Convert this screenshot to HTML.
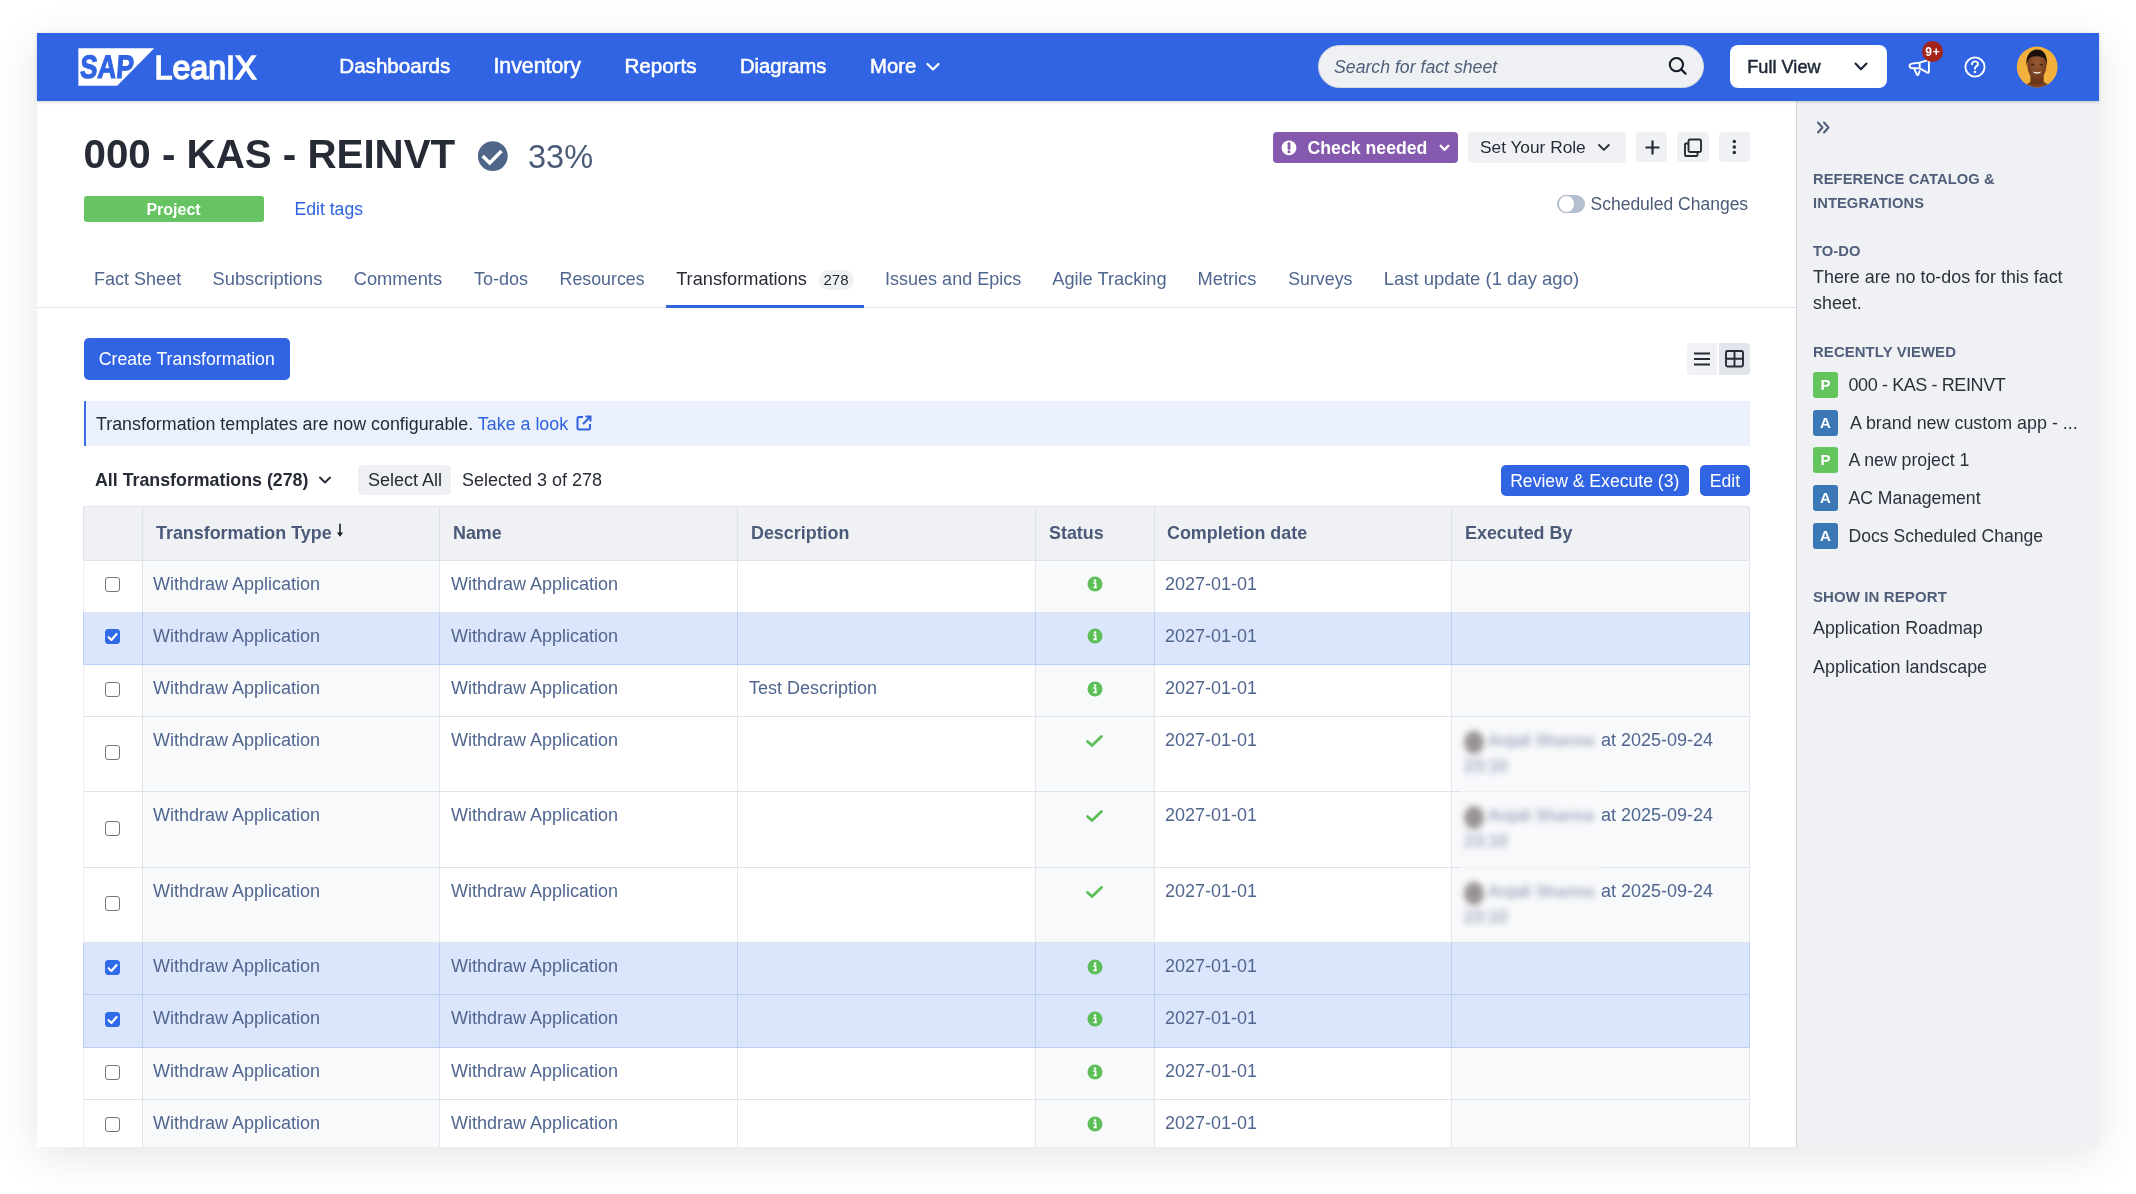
<!DOCTYPE html>
<html><head><meta charset="utf-8"><title>LeanIX</title><style>
*{box-sizing:border-box;margin:0;padding:0}
html,body{width:2136px;height:1194px;overflow:hidden;background:#fff;}
body{will-change:transform;
  font-family:"Liberation Sans",sans-serif;color:#262b36;}
.a{position:absolute;white-space:nowrap}
#win{position:absolute;left:37px;top:33px;width:2062px;height:1114px;background:#fff;
  box-shadow:0 9px 40px rgba(0,0,0,0.105);overflow:hidden}
#nav{position:absolute;left:37px;top:33px;width:2062px;height:68px;background:#3164e3;
  box-shadow:0 1px 3px rgba(0,0,0,0.18)}
.nv{position:absolute;top:53.5px;font-size:20.5px;color:#fff;line-height:24px;-webkit-text-stroke:0.55px #fff}
.tab{position:absolute;top:267px;font-size:18px;line-height:24px;color:#50668f}
.t18{font-size:18px;line-height:24px}
.hd{position:absolute;font-weight:bold;font-size:17.9px;line-height:24px;color:#4a5a78}
.cell{position:absolute;font-size:18px;line-height:24px;color:#50668f}
.sbh{position:absolute;left:1813px;font-weight:bold;font-size:14.7px;line-height:23.5px;color:#4f5e79;letter-spacing:0.1px}
.sbt{position:absolute;left:1813px;font-size:18px;line-height:26px;color:#2b303b}
.gbtn{position:absolute;background:#eff1f4;border-radius:4px}
.chk{position:absolute;width:15px;height:15px;border:1.6px solid #767676;border-radius:3px;background:#fff}
.chk.on{background:#2f6ae8;border-color:#2f6ae8}
</style></head>
<body>
<div id="win"></div>
<div class="a" style="left:1797px;top:101px;width:302px;height:1046px;background:#f0f1f5"></div>
<div class="a" style="left:1795.5px;top:101px;width:1.8px;height:1046px;background:#d2d3d6"></div>
<div id="nav"></div>
<svg class="a" style="left:78px;top:48px" width="77" height="39" viewBox="0 0 77 39">
<polygon points="0.4,0.2 76.2,0.2 39.2,37.7 0.4,37.7" fill="#fff"/>
<text x="2.2" y="30.4" font-family="Liberation Sans" font-weight="bold" font-size="32.5" fill="#3164e3" stroke="#3164e3" stroke-width="1.1" textLength="53.5" lengthAdjust="spacingAndGlyphs" transform="skewX(-4) translate(1.5 0)">SAP</text>
</svg>
<svg class="a" style="left:153px;top:48px" width="110" height="40" viewBox="0 0 110 40">
<text x="1.5" y="30.8" font-family="Liberation Sans" font-size="33.5" fill="#fff" stroke="#fff" stroke-width="1.6" textLength="102" lengthAdjust="spacingAndGlyphs">LeanIX</text>
</svg>
<div class="nv" style="left:339.3px;font-size:20.6px">Dashboards</div>
<div class="nv" style="left:493.4px;font-size:21.3px">Inventory</div>
<div class="nv" style="left:624.4px;font-size:20.6px">Reports</div>
<div class="nv" style="left:740px;font-size:20.2px">Diagrams</div>
<div class="nv" style="left:870.1px;font-size:20.3px">More</div>
<svg class="a" style="left:925px;top:60px" width="16" height="14" viewBox="0 0 16 14"><path d="M2.5 4 L8 9.5 L13.5 4" fill="none" stroke="#fff" stroke-width="2.2" stroke-linecap="round" stroke-linejoin="round"/></svg>
<div class="a" style="left:1318px;top:45px;width:386px;height:43px;border-radius:22px;background:#eef0f3;border:1px solid #d4d8df"></div>
<div class="a" style="left:1334px;top:55px;font-style:italic;font-size:17.7px;line-height:24px;color:#4f5e79">Search for fact sheet</div>
<svg class="a" style="left:1666px;top:56px" width="22" height="22" viewBox="0 0 22 22"><circle cx="10.4" cy="8.6" r="6.6" fill="none" stroke="#141a26" stroke-width="2.1"/><path d="M15.2 13.4 L19.6 17.8" stroke="#141a26" stroke-width="2.2" stroke-linecap="round"/></svg>
<div class="a" style="left:1730px;top:45px;width:157px;height:43px;border-radius:8px;background:#fff"></div>
<div class="a" style="left:1747.2px;top:54.5px;font-size:18.2px;line-height:24px;color:#1b2636;-webkit-text-stroke:0.45px #1b2636">Full View</div>
<svg class="a" style="left:1852px;top:59px" width="17" height="14" viewBox="0 0 17 14"><path d="M3.5 4.5 L9 10.2 L14.5 4.5" fill="none" stroke="#1b2636" stroke-width="2.1" stroke-linecap="round" stroke-linejoin="round"/></svg>
<svg class="a" style="left:1906px;top:55px" width="28" height="26" viewBox="0 0 28 26">
<path d="M13.7 7.6 L21.3 5.3 Q22.9 4.9 22.9 6.5 L22.9 16.6 Q22.9 18.2 21.4 17.6 L13.7 13.4 Z" fill="none" stroke="#fff" stroke-width="1.9" stroke-linejoin="round"/>
<path d="M13.7 7.6 L6 8.6 Q3.6 9 3.6 11 Q3.6 13 6 13.1 L13.7 13.4" fill="none" stroke="#fff" stroke-width="1.9" stroke-linejoin="round"/>
<path d="M8 13.3 L10.9 19.6 Q11.5 20.6 12.2 19.6 L13.6 16.2" fill="none" stroke="#fff" stroke-width="1.9" stroke-linejoin="round" stroke-linecap="round"/>
</svg>
<div class="a" style="left:1922px;top:41px;width:21px;height:21px;border-radius:50%;background:#a2241a;color:#fff;font-weight:bold;font-size:12px;line-height:22px;letter-spacing:0.8px;text-indent:0.8px;text-align:center">9+</div>
<svg class="a" style="left:1963px;top:55px" width="24" height="24" viewBox="0 0 24 24">
<circle cx="12" cy="12" r="9.6" fill="none" stroke="#fff" stroke-width="1.9"/>
<path d="M9 9.3 C9 7.4 10.4 6.4 12 6.4 C13.7 6.4 15 7.5 15 9 C15 10.6 13.6 11.1 12.6 11.9 C12.1 12.3 12 12.8 12 13.8" fill="none" stroke="#fff" stroke-width="1.9" stroke-linecap="round"/>
<circle cx="12" cy="17" r="1.3" fill="#fff"/>
</svg>
<svg class="a" style="left:2016px;top:46px" width="42" height="42" viewBox="0 0 42 42">
<defs><clipPath id="cp"><circle cx="21.2" cy="21" r="20.4"/></clipPath>
<radialGradient id="fg" cx="0.5" cy="0.4" r="0.6"><stop offset="0" stop-color="#9a5a34"/><stop offset="1" stop-color="#6e3a1c"/></radialGradient></defs>
<g clip-path="url(#cp)">
<rect width="42" height="42" fill="#f1b13c"/>
<path d="M8 43 C9 38.5 12.5 37 15 36 L27.5 36 C30 37 33 38.5 34.5 43 Z" fill="#7c4220"/>
<path d="M14.5 28 L27.5 28 L27.8 37.5 Q21 40 14.3 37.5 Z" fill="#6a3619"/>
<path d="M11.2 18 C11 11 15 5 21 5 C27.5 5 31 10.5 30.6 18 C30.4 26 27 34 21 34 C15 34 11.4 26 11.2 18 Z" fill="url(#fg)"/>
<path d="M10.4 19.5 C9.6 9.5 14.5 3.6 21 3.6 C27.8 3.6 31.6 9 31 19.5 C30.3 15 29.6 12.5 27 11.3 C23.5 9.8 18 9.8 14.8 11.3 C12.3 12.6 11.3 15 10.4 19.5 Z" fill="#1a110c"/>
<ellipse cx="16.8" cy="18.6" rx="1.8" ry="0.9" fill="#3a2418"/>
<ellipse cx="25.4" cy="18.6" rx="1.8" ry="0.9" fill="#3a2418"/>
<path d="M16.6 25.6 C18.5 28.6 23.6 28.6 25.4 25.6 C23 26.6 19 26.6 16.6 25.6 Z" fill="#f3ece6"/>
</g></svg>
<div class="a" style="left:83.5px;top:131px;font-weight:bold;font-size:40.3px;line-height:48px;color:#262b36">000 - KAS - REINVT</div>
<svg class="a" style="left:478px;top:141px" width="31" height="31" viewBox="0 0 31 31">
<circle cx="14.8" cy="15.1" r="14.9" fill="#4f6689"/>
<path d="M4.7 15 L11.7 22 L23.5 10" fill="none" stroke="#fff" stroke-width="3.4" stroke-linecap="butt" stroke-linejoin="miter"/>
</svg>
<div class="a" style="left:528px;top:137px;font-size:32.5px;line-height:40px;color:#4c5b78">33%</div>
<div class="a" style="left:83.5px;top:196px;width:180px;height:25.5px;border-radius:3px;background:#66c562;color:#fff;font-weight:bold;font-size:16px;line-height:27.5px;text-align:center">Project</div>
<div class="a" style="left:294.5px;top:197px;font-size:17.6px;line-height:24px;color:#2f63dd">Edit tags</div>
<div class="a" style="left:1273px;top:132px;width:185px;height:31px;border-radius:4px;background:#8559ad"></div>
<svg class="a" style="left:1281px;top:140px" width="16" height="16" viewBox="0 0 16 16"><circle cx="8" cy="7.8" r="7.4" fill="#fff"/><path d="M8 3.6 L8 8.6" stroke="#8559ad" stroke-width="2.8" stroke-linecap="round"/><circle cx="8" cy="11.7" r="1.5" fill="#8559ad"/></svg>
<div class="a" style="left:1307.5px;top:135.5px;font-weight:bold;font-size:17.7px;line-height:24px;color:#fff">Check needed</div>
<svg class="a" style="left:1438px;top:142px" width="13" height="12" viewBox="0 0 13 12"><path d="M2.6 3.8 L6.5 7.9 L10.4 3.8" fill="none" stroke="#fff" stroke-width="2.3" stroke-linecap="round" stroke-linejoin="round"/></svg>
<div class="gbtn" style="left:1468px;top:132px;width:158px;height:31px"></div>
<div class="a" style="left:1480px;top:134.8px;font-size:17.3px;line-height:24px;color:#262b36">Set Your Role</div>
<svg class="a" style="left:1596px;top:141px" width="16" height="13" viewBox="0 0 16 13"><path d="M3 4 L7.9 8.9 L12.8 4" fill="none" stroke="#262b36" stroke-width="1.8" stroke-linecap="round" stroke-linejoin="round"/></svg>
<div class="gbtn" style="left:1636px;top:131.5px;width:31px;height:30.5px"></div>
<svg class="a" style="left:1642.5px;top:137.5px" width="19" height="19" viewBox="0 0 19 19"><path d="M9.5 2.5 V16.5 M2.5 9.5 H16.5" stroke="#262b36" stroke-width="2.2"/></svg>
<div class="gbtn" style="left:1677px;top:131.5px;width:32px;height:30.5px"></div>
<svg class="a" style="left:1682px;top:136.5px" width="22" height="22" viewBox="0 0 22 22"><rect x="6.5" y="2.5" width="12.5" height="12.5" rx="1.5" fill="none" stroke="#262b36" stroke-width="1.9"/><path d="M6.5 6.5 H4 Q3 6.5 3 7.5 V18 Q3 19 4 19 H14.5 Q15.5 19 15.5 18 V15" fill="none" stroke="#262b36" stroke-width="1.9"/></svg>
<div class="gbtn" style="left:1719px;top:131.5px;width:31px;height:30.5px"></div>
<svg class="a" style="left:1730px;top:137px" width="8" height="21" viewBox="0 0 8 21"><circle cx="4.3" cy="4.5" r="1.75" fill="#262b36"/><circle cx="4.3" cy="10" r="1.75" fill="#262b36"/><circle cx="4.3" cy="15.4" r="1.75" fill="#262b36"/></svg>
<div class="a" style="left:1557px;top:194.5px;width:28px;height:18.5px;border-radius:10px;background:#b4bfcf"></div>
<div class="a" style="left:1557.5px;top:195px;width:17.5px;height:17.5px;border-radius:50%;background:#fff;border:1px solid #aab4c4"></div>
<div class="a" style="left:1590.5px;top:192px;font-size:17.5px;line-height:24px;color:#4b5a77">Scheduled Changes</div>
<div class="tab" style="left:94.1px;font-size:18px">Fact Sheet</div>
<div class="tab" style="left:212.6px;font-size:18.3px">Subscriptions</div>
<div class="tab" style="left:353.7px;font-size:18.3px">Comments</div>
<div class="tab" style="left:474.1px;font-size:18px">To-dos</div>
<div class="tab" style="left:559.6px;font-size:17.8px">Resources</div>
<div class="tab" style="left:885.1px;font-size:18px">Issues and Epics</div>
<div class="tab" style="left:1052.3px;font-size:18.2px">Agile Tracking</div>
<div class="tab" style="left:1197.5px;font-size:18.3px">Metrics</div>
<div class="tab" style="left:1288.2px;font-size:17.8px">Surveys</div>
<div class="tab" style="left:1383.7px;font-size:18.5px">Last update (1 day ago)</div>
<div class="tab" style="left:676.2px;font-size:18.2px;color:#262b36">Transformations</div>
<div class="a" style="left:818.5px;top:270px;width:35px;height:20px;border-radius:10px;background:#eef0f3;font-size:15px;line-height:20.5px;text-align:center;color:#262b36">278</div>
<div class="a" style="left:37px;top:306.5px;width:1760px;height:1.5px;background:#dfe3ea"></div>
<div class="a" style="left:665.5px;top:305px;width:198.5px;height:3px;background:#2f64e0"></div>
<div class="a" style="left:83.5px;top:338px;width:206.5px;height:42px;border-radius:5px;background:#3164e3;color:#fff;font-size:17.7px;line-height:43px;text-align:center">Create Transformation</div>
<div class="a" style="left:1687px;top:343px;width:30px;height:32px;border-radius:4px 0 0 4px;background:#f0f2f5"></div>
<div class="a" style="left:1719px;top:343px;width:31px;height:32px;border-radius:0 4px 4px 0;background:#e2e5eb"></div>
<svg class="a" style="left:1692px;top:350px" width="20" height="18" viewBox="0 0 20 18"><path d="M2 3.5 H18 M2 9 H18 M2 14.5 H18" stroke="#262b36" stroke-width="2"/></svg>
<svg class="a" style="left:1724px;top:349px" width="21" height="20" viewBox="0 0 21 20"><rect x="2" y="2" width="17" height="15.5" rx="1.5" fill="none" stroke="#262b36" stroke-width="1.9"/><path d="M10.5 2 V17.5 M2 9.75 H19" stroke="#262b36" stroke-width="1.9"/></svg>
<div class="a" style="left:83.5px;top:400.5px;width:1666.5px;height:45.5px;background:#ebf1fc;border-left:2.5px solid #3a6de6"></div>
<div class="a" style="left:96px;top:411.5px;font-size:17.85px;line-height:24px;color:#262b36">Transformation templates are now configurable. <span style="color:#2f63dd">Take a look</span></div>
<svg class="a" style="left:574.5px;top:414px" width="18" height="18" viewBox="0 0 18 18"><path d="M8 3 H4 Q2.5 3 2.5 4.5 V14 Q2.5 15.5 4 15.5 H13.5 Q15 15.5 15 14 V10" fill="none" stroke="#2f63dd" stroke-width="2"/><path d="M8 10 L15.5 2.5 M10.5 2.5 H15.5 V7.5" fill="none" stroke="#2f63dd" stroke-width="2"/></svg>
<div class="a" style="left:95px;top:468px;font-weight:bold;font-size:17.8px;line-height:24px;color:#262b36">All Transformations (278)</div>
<svg class="a" style="left:318px;top:474px" width="14" height="12" viewBox="0 0 14 12"><path d="M2 3.5 L7 8.5 L12 3.5" fill="none" stroke="#262b36" stroke-width="1.9" stroke-linecap="round" stroke-linejoin="round"/></svg>
<div class="a" style="left:358px;top:465px;width:93px;height:30px;border-radius:4px;background:#eef0f3"></div>
<div class="a t18" style="left:368px;top:468px;color:#262b36">Select All</div>
<div class="a t18" style="left:462px;top:468px;color:#262b36">Selected 3 of 278</div>
<div class="a" style="left:1500.5px;top:465px;width:188.5px;height:31px;border-radius:5px;background:#3164e3;color:#fff;font-size:17.6px;line-height:32px;text-align:center">Review &amp; Execute (3)</div>
<div class="a" style="left:1700px;top:465px;width:50px;height:31px;border-radius:5px;background:#3164e3;color:#fff;font-size:17.6px;line-height:32px;text-align:center">Edit</div>
<div class="a" style="left:83.5px;top:506px;width:1666.0px;height:54px;background:#f0f1f5;border-top:1px solid #e2e5eb"></div>
<div class="a" style="left:83.5px;top:560px;width:59.0px;height:52px;background:#fff"></div>
<div class="a" style="left:142.5px;top:560px;width:297.0px;height:52px;background:#f8f9fb"></div>
<div class="a" style="left:439.5px;top:560px;width:298.0px;height:52px;background:#fff"></div>
<div class="a" style="left:737.5px;top:560px;width:298.0px;height:52px;background:#fff"></div>
<div class="a" style="left:1035.5px;top:560px;width:119.0px;height:52px;background:#f8f9fb"></div>
<div class="a" style="left:1154.5px;top:560px;width:297.0px;height:52px;background:#fff"></div>
<div class="a" style="left:1451.5px;top:560px;width:298.0px;height:52px;background:#f8f9fb"></div>
<div class="a" style="left:83.5px;top:612px;width:59.0px;height:52.5px;background:#dbe5fb"></div>
<div class="a" style="left:142.5px;top:612px;width:297.0px;height:52.5px;background:#dbe5fb"></div>
<div class="a" style="left:439.5px;top:612px;width:298.0px;height:52.5px;background:#dbe5fb"></div>
<div class="a" style="left:737.5px;top:612px;width:298.0px;height:52.5px;background:#dbe5fb"></div>
<div class="a" style="left:1035.5px;top:612px;width:119.0px;height:52.5px;background:#dbe5fb"></div>
<div class="a" style="left:1154.5px;top:612px;width:297.0px;height:52.5px;background:#dbe5fb"></div>
<div class="a" style="left:1451.5px;top:612px;width:298.0px;height:52.5px;background:#dbe5fb"></div>
<div class="a" style="left:83.5px;top:664.5px;width:59.0px;height:52.0px;background:#fff"></div>
<div class="a" style="left:142.5px;top:664.5px;width:297.0px;height:52.0px;background:#f8f9fb"></div>
<div class="a" style="left:439.5px;top:664.5px;width:298.0px;height:52.0px;background:#fff"></div>
<div class="a" style="left:737.5px;top:664.5px;width:298.0px;height:52.0px;background:#fff"></div>
<div class="a" style="left:1035.5px;top:664.5px;width:119.0px;height:52.0px;background:#f8f9fb"></div>
<div class="a" style="left:1154.5px;top:664.5px;width:297.0px;height:52.0px;background:#fff"></div>
<div class="a" style="left:1451.5px;top:664.5px;width:298.0px;height:52.0px;background:#f8f9fb"></div>
<div class="a" style="left:83.5px;top:716.5px;width:59.0px;height:75.0px;background:#fff"></div>
<div class="a" style="left:142.5px;top:716.5px;width:297.0px;height:75.0px;background:#f8f9fb"></div>
<div class="a" style="left:439.5px;top:716.5px;width:298.0px;height:75.0px;background:#fff"></div>
<div class="a" style="left:737.5px;top:716.5px;width:298.0px;height:75.0px;background:#fff"></div>
<div class="a" style="left:1035.5px;top:716.5px;width:119.0px;height:75.0px;background:#f8f9fb"></div>
<div class="a" style="left:1154.5px;top:716.5px;width:297.0px;height:75.0px;background:#fff"></div>
<div class="a" style="left:1451.5px;top:716.5px;width:298.0px;height:75.0px;background:#f8f9fb"></div>
<div class="a" style="left:83.5px;top:791.5px;width:59.0px;height:76.0px;background:#fff"></div>
<div class="a" style="left:142.5px;top:791.5px;width:297.0px;height:76.0px;background:#f8f9fb"></div>
<div class="a" style="left:439.5px;top:791.5px;width:298.0px;height:76.0px;background:#fff"></div>
<div class="a" style="left:737.5px;top:791.5px;width:298.0px;height:76.0px;background:#fff"></div>
<div class="a" style="left:1035.5px;top:791.5px;width:119.0px;height:76.0px;background:#f8f9fb"></div>
<div class="a" style="left:1154.5px;top:791.5px;width:297.0px;height:76.0px;background:#fff"></div>
<div class="a" style="left:1451.5px;top:791.5px;width:298.0px;height:76.0px;background:#f8f9fb"></div>
<div class="a" style="left:83.5px;top:867.5px;width:59.0px;height:75.0px;background:#fff"></div>
<div class="a" style="left:142.5px;top:867.5px;width:297.0px;height:75.0px;background:#f8f9fb"></div>
<div class="a" style="left:439.5px;top:867.5px;width:298.0px;height:75.0px;background:#fff"></div>
<div class="a" style="left:737.5px;top:867.5px;width:298.0px;height:75.0px;background:#fff"></div>
<div class="a" style="left:1035.5px;top:867.5px;width:119.0px;height:75.0px;background:#f8f9fb"></div>
<div class="a" style="left:1154.5px;top:867.5px;width:297.0px;height:75.0px;background:#fff"></div>
<div class="a" style="left:1451.5px;top:867.5px;width:298.0px;height:75.0px;background:#f8f9fb"></div>
<div class="a" style="left:83.5px;top:942.5px;width:59.0px;height:52.0px;background:#dbe5fb"></div>
<div class="a" style="left:142.5px;top:942.5px;width:297.0px;height:52.0px;background:#dbe5fb"></div>
<div class="a" style="left:439.5px;top:942.5px;width:298.0px;height:52.0px;background:#dbe5fb"></div>
<div class="a" style="left:737.5px;top:942.5px;width:298.0px;height:52.0px;background:#dbe5fb"></div>
<div class="a" style="left:1035.5px;top:942.5px;width:119.0px;height:52.0px;background:#dbe5fb"></div>
<div class="a" style="left:1154.5px;top:942.5px;width:297.0px;height:52.0px;background:#dbe5fb"></div>
<div class="a" style="left:1451.5px;top:942.5px;width:298.0px;height:52.0px;background:#dbe5fb"></div>
<div class="a" style="left:83.5px;top:994.5px;width:59.0px;height:53.0px;background:#dbe5fb"></div>
<div class="a" style="left:142.5px;top:994.5px;width:297.0px;height:53.0px;background:#dbe5fb"></div>
<div class="a" style="left:439.5px;top:994.5px;width:298.0px;height:53.0px;background:#dbe5fb"></div>
<div class="a" style="left:737.5px;top:994.5px;width:298.0px;height:53.0px;background:#dbe5fb"></div>
<div class="a" style="left:1035.5px;top:994.5px;width:119.0px;height:53.0px;background:#dbe5fb"></div>
<div class="a" style="left:1154.5px;top:994.5px;width:297.0px;height:53.0px;background:#dbe5fb"></div>
<div class="a" style="left:1451.5px;top:994.5px;width:298.0px;height:53.0px;background:#dbe5fb"></div>
<div class="a" style="left:83.5px;top:1047.5px;width:59.0px;height:52.0px;background:#fff"></div>
<div class="a" style="left:142.5px;top:1047.5px;width:297.0px;height:52.0px;background:#f8f9fb"></div>
<div class="a" style="left:439.5px;top:1047.5px;width:298.0px;height:52.0px;background:#fff"></div>
<div class="a" style="left:737.5px;top:1047.5px;width:298.0px;height:52.0px;background:#fff"></div>
<div class="a" style="left:1035.5px;top:1047.5px;width:119.0px;height:52.0px;background:#f8f9fb"></div>
<div class="a" style="left:1154.5px;top:1047.5px;width:297.0px;height:52.0px;background:#fff"></div>
<div class="a" style="left:1451.5px;top:1047.5px;width:298.0px;height:52.0px;background:#f8f9fb"></div>
<div class="a" style="left:83.5px;top:1099.5px;width:59.0px;height:47.5px;background:#fff"></div>
<div class="a" style="left:142.5px;top:1099.5px;width:297.0px;height:47.5px;background:#f8f9fb"></div>
<div class="a" style="left:439.5px;top:1099.5px;width:298.0px;height:47.5px;background:#fff"></div>
<div class="a" style="left:737.5px;top:1099.5px;width:298.0px;height:47.5px;background:#fff"></div>
<div class="a" style="left:1035.5px;top:1099.5px;width:119.0px;height:47.5px;background:#f8f9fb"></div>
<div class="a" style="left:1154.5px;top:1099.5px;width:297.0px;height:47.5px;background:#fff"></div>
<div class="a" style="left:1451.5px;top:1099.5px;width:298.0px;height:47.5px;background:#f8f9fb"></div>
<div class="a" style="left:83.5px;top:559.5px;width:1666.0px;height:1.2px;background:#dde1e8"></div>
<div class="a" style="left:83.5px;top:611.5px;width:1666.0px;height:1.2px;background:#dde1e8"></div>
<div class="a" style="left:83.5px;top:664.0px;width:1666.0px;height:1.2px;background:#b9cdf5"></div>
<div class="a" style="left:83.5px;top:716.0px;width:1666.0px;height:1.2px;background:#dde1e8"></div>
<div class="a" style="left:83.5px;top:791.0px;width:1666.0px;height:1.2px;background:#dde1e8"></div>
<div class="a" style="left:83.5px;top:867.0px;width:1666.0px;height:1.2px;background:#dde1e8"></div>
<div class="a" style="left:83.5px;top:942.0px;width:1666.0px;height:1.2px;background:#dde1e8"></div>
<div class="a" style="left:83.5px;top:994.0px;width:1666.0px;height:1.2px;background:#b9cdf5"></div>
<div class="a" style="left:83.5px;top:1047.0px;width:1666.0px;height:1.2px;background:#b9cdf5"></div>
<div class="a" style="left:83.5px;top:1099.0px;width:1666.0px;height:1.2px;background:#dde1e8"></div>
<div class="a" style="left:82.9px;top:506px;width:1.2px;height:54px;background:#dde1e8"></div>
<div class="a" style="left:82.9px;top:560px;width:1.2px;height:52px;background:#eceef2"></div>
<div class="a" style="left:82.9px;top:612px;width:1.2px;height:52.5px;background:#bcd0f6"></div>
<div class="a" style="left:82.9px;top:664.5px;width:1.2px;height:52.0px;background:#eceef2"></div>
<div class="a" style="left:82.9px;top:716.5px;width:1.2px;height:75.0px;background:#eceef2"></div>
<div class="a" style="left:82.9px;top:791.5px;width:1.2px;height:76.0px;background:#eceef2"></div>
<div class="a" style="left:82.9px;top:867.5px;width:1.2px;height:75.0px;background:#eceef2"></div>
<div class="a" style="left:82.9px;top:942.5px;width:1.2px;height:52.0px;background:#bcd0f6"></div>
<div class="a" style="left:82.9px;top:994.5px;width:1.2px;height:53.0px;background:#bcd0f6"></div>
<div class="a" style="left:82.9px;top:1047.5px;width:1.2px;height:52.0px;background:#eceef2"></div>
<div class="a" style="left:82.9px;top:1099.5px;width:1.2px;height:47.5px;background:#eceef2"></div>
<div class="a" style="left:141.9px;top:506px;width:1.2px;height:54px;background:#dde1e8"></div>
<div class="a" style="left:141.9px;top:560px;width:1.2px;height:52px;background:#e3e6ec"></div>
<div class="a" style="left:141.9px;top:612px;width:1.2px;height:52.5px;background:#bcd0f6"></div>
<div class="a" style="left:141.9px;top:664.5px;width:1.2px;height:52.0px;background:#e3e6ec"></div>
<div class="a" style="left:141.9px;top:716.5px;width:1.2px;height:75.0px;background:#e3e6ec"></div>
<div class="a" style="left:141.9px;top:791.5px;width:1.2px;height:76.0px;background:#e3e6ec"></div>
<div class="a" style="left:141.9px;top:867.5px;width:1.2px;height:75.0px;background:#e3e6ec"></div>
<div class="a" style="left:141.9px;top:942.5px;width:1.2px;height:52.0px;background:#bcd0f6"></div>
<div class="a" style="left:141.9px;top:994.5px;width:1.2px;height:53.0px;background:#bcd0f6"></div>
<div class="a" style="left:141.9px;top:1047.5px;width:1.2px;height:52.0px;background:#e3e6ec"></div>
<div class="a" style="left:141.9px;top:1099.5px;width:1.2px;height:47.5px;background:#e3e6ec"></div>
<div class="a" style="left:438.9px;top:506px;width:1.2px;height:54px;background:#dde1e8"></div>
<div class="a" style="left:438.9px;top:560px;width:1.2px;height:52px;background:#e3e6ec"></div>
<div class="a" style="left:438.9px;top:612px;width:1.2px;height:52.5px;background:#bcd0f6"></div>
<div class="a" style="left:438.9px;top:664.5px;width:1.2px;height:52.0px;background:#e3e6ec"></div>
<div class="a" style="left:438.9px;top:716.5px;width:1.2px;height:75.0px;background:#e3e6ec"></div>
<div class="a" style="left:438.9px;top:791.5px;width:1.2px;height:76.0px;background:#e3e6ec"></div>
<div class="a" style="left:438.9px;top:867.5px;width:1.2px;height:75.0px;background:#e3e6ec"></div>
<div class="a" style="left:438.9px;top:942.5px;width:1.2px;height:52.0px;background:#bcd0f6"></div>
<div class="a" style="left:438.9px;top:994.5px;width:1.2px;height:53.0px;background:#bcd0f6"></div>
<div class="a" style="left:438.9px;top:1047.5px;width:1.2px;height:52.0px;background:#e3e6ec"></div>
<div class="a" style="left:438.9px;top:1099.5px;width:1.2px;height:47.5px;background:#e3e6ec"></div>
<div class="a" style="left:736.9px;top:506px;width:1.2px;height:54px;background:#dde1e8"></div>
<div class="a" style="left:736.9px;top:560px;width:1.2px;height:52px;background:#e3e6ec"></div>
<div class="a" style="left:736.9px;top:612px;width:1.2px;height:52.5px;background:#bcd0f6"></div>
<div class="a" style="left:736.9px;top:664.5px;width:1.2px;height:52.0px;background:#e3e6ec"></div>
<div class="a" style="left:736.9px;top:716.5px;width:1.2px;height:75.0px;background:#e3e6ec"></div>
<div class="a" style="left:736.9px;top:791.5px;width:1.2px;height:76.0px;background:#e3e6ec"></div>
<div class="a" style="left:736.9px;top:867.5px;width:1.2px;height:75.0px;background:#e3e6ec"></div>
<div class="a" style="left:736.9px;top:942.5px;width:1.2px;height:52.0px;background:#bcd0f6"></div>
<div class="a" style="left:736.9px;top:994.5px;width:1.2px;height:53.0px;background:#bcd0f6"></div>
<div class="a" style="left:736.9px;top:1047.5px;width:1.2px;height:52.0px;background:#e3e6ec"></div>
<div class="a" style="left:736.9px;top:1099.5px;width:1.2px;height:47.5px;background:#e3e6ec"></div>
<div class="a" style="left:1034.9px;top:506px;width:1.2px;height:54px;background:#dde1e8"></div>
<div class="a" style="left:1034.9px;top:560px;width:1.2px;height:52px;background:#e3e6ec"></div>
<div class="a" style="left:1034.9px;top:612px;width:1.2px;height:52.5px;background:#bcd0f6"></div>
<div class="a" style="left:1034.9px;top:664.5px;width:1.2px;height:52.0px;background:#e3e6ec"></div>
<div class="a" style="left:1034.9px;top:716.5px;width:1.2px;height:75.0px;background:#e3e6ec"></div>
<div class="a" style="left:1034.9px;top:791.5px;width:1.2px;height:76.0px;background:#e3e6ec"></div>
<div class="a" style="left:1034.9px;top:867.5px;width:1.2px;height:75.0px;background:#e3e6ec"></div>
<div class="a" style="left:1034.9px;top:942.5px;width:1.2px;height:52.0px;background:#bcd0f6"></div>
<div class="a" style="left:1034.9px;top:994.5px;width:1.2px;height:53.0px;background:#bcd0f6"></div>
<div class="a" style="left:1034.9px;top:1047.5px;width:1.2px;height:52.0px;background:#e3e6ec"></div>
<div class="a" style="left:1034.9px;top:1099.5px;width:1.2px;height:47.5px;background:#e3e6ec"></div>
<div class="a" style="left:1153.9px;top:506px;width:1.2px;height:54px;background:#dde1e8"></div>
<div class="a" style="left:1153.9px;top:560px;width:1.2px;height:52px;background:#e3e6ec"></div>
<div class="a" style="left:1153.9px;top:612px;width:1.2px;height:52.5px;background:#bcd0f6"></div>
<div class="a" style="left:1153.9px;top:664.5px;width:1.2px;height:52.0px;background:#e3e6ec"></div>
<div class="a" style="left:1153.9px;top:716.5px;width:1.2px;height:75.0px;background:#e3e6ec"></div>
<div class="a" style="left:1153.9px;top:791.5px;width:1.2px;height:76.0px;background:#e3e6ec"></div>
<div class="a" style="left:1153.9px;top:867.5px;width:1.2px;height:75.0px;background:#e3e6ec"></div>
<div class="a" style="left:1153.9px;top:942.5px;width:1.2px;height:52.0px;background:#bcd0f6"></div>
<div class="a" style="left:1153.9px;top:994.5px;width:1.2px;height:53.0px;background:#bcd0f6"></div>
<div class="a" style="left:1153.9px;top:1047.5px;width:1.2px;height:52.0px;background:#e3e6ec"></div>
<div class="a" style="left:1153.9px;top:1099.5px;width:1.2px;height:47.5px;background:#e3e6ec"></div>
<div class="a" style="left:1450.9px;top:506px;width:1.2px;height:54px;background:#dde1e8"></div>
<div class="a" style="left:1450.9px;top:560px;width:1.2px;height:52px;background:#e3e6ec"></div>
<div class="a" style="left:1450.9px;top:612px;width:1.2px;height:52.5px;background:#bcd0f6"></div>
<div class="a" style="left:1450.9px;top:664.5px;width:1.2px;height:52.0px;background:#e3e6ec"></div>
<div class="a" style="left:1450.9px;top:716.5px;width:1.2px;height:75.0px;background:#e3e6ec"></div>
<div class="a" style="left:1450.9px;top:791.5px;width:1.2px;height:76.0px;background:#e3e6ec"></div>
<div class="a" style="left:1450.9px;top:867.5px;width:1.2px;height:75.0px;background:#e3e6ec"></div>
<div class="a" style="left:1450.9px;top:942.5px;width:1.2px;height:52.0px;background:#bcd0f6"></div>
<div class="a" style="left:1450.9px;top:994.5px;width:1.2px;height:53.0px;background:#bcd0f6"></div>
<div class="a" style="left:1450.9px;top:1047.5px;width:1.2px;height:52.0px;background:#e3e6ec"></div>
<div class="a" style="left:1450.9px;top:1099.5px;width:1.2px;height:47.5px;background:#e3e6ec"></div>
<div class="a" style="left:1748.9px;top:506px;width:1.2px;height:54px;background:#dde1e8"></div>
<div class="a" style="left:1748.9px;top:560px;width:1.2px;height:52px;background:#e3e6ec"></div>
<div class="a" style="left:1748.9px;top:612px;width:1.2px;height:52.5px;background:#bcd0f6"></div>
<div class="a" style="left:1748.9px;top:664.5px;width:1.2px;height:52.0px;background:#e3e6ec"></div>
<div class="a" style="left:1748.9px;top:716.5px;width:1.2px;height:75.0px;background:#e3e6ec"></div>
<div class="a" style="left:1748.9px;top:791.5px;width:1.2px;height:76.0px;background:#e3e6ec"></div>
<div class="a" style="left:1748.9px;top:867.5px;width:1.2px;height:75.0px;background:#e3e6ec"></div>
<div class="a" style="left:1748.9px;top:942.5px;width:1.2px;height:52.0px;background:#bcd0f6"></div>
<div class="a" style="left:1748.9px;top:994.5px;width:1.2px;height:53.0px;background:#bcd0f6"></div>
<div class="a" style="left:1748.9px;top:1047.5px;width:1.2px;height:52.0px;background:#e3e6ec"></div>
<div class="a" style="left:1748.9px;top:1099.5px;width:1.2px;height:47.5px;background:#e3e6ec"></div>
<div class="hd" style="left:156px;top:521px">Transformation Type</div>
<svg class="a" style="left:334.5px;top:522px" width="10" height="16" viewBox="0 0 10 16"><path d="M5 2.2 V12" fill="none" stroke="#1a1f2b" stroke-width="1.6" stroke-linecap="round"/><path d="M1.9 10.6 L5 14.8 L8.1 10.6 Z" fill="#1a1f2b"/></svg>
<div class="hd" style="left:453px;top:521px">Name</div>
<div class="hd" style="left:751px;top:521px">Description</div>
<div class="hd" style="left:1049px;top:521px">Status</div>
<div class="hd" style="left:1167px;top:521px">Completion date</div>
<div class="hd" style="left:1465px;top:521px">Executed By</div>
<div class="chk" style="left:105px;top:577px"></div>
<div class="cell" style="left:153px;top:571.5px">Withdraw Application</div>
<div class="cell" style="left:451px;top:571.5px">Withdraw Application</div>
<svg class="a" style="left:1087px;top:576px" width="16" height="16" viewBox="0 0 16 16"><circle cx="8" cy="8" r="7.5" fill="#5dbf57"/><circle cx="8" cy="4.6" r="1.25" fill="#fff"/><path d="M6.3 7 H8.6 V11.2 M6.4 11.4 H9.8" fill="none" stroke="#fff" stroke-width="1.6"/></svg>
<div class="cell" style="left:1165px;top:571.5px">2027-01-01</div>
<div class="chk on" style="left:105px;top:629px"></div>
<svg class="a" style="left:105px;top:629px" width="15" height="16" viewBox="0 0 15 16"><path d="M3.6 8.2 L6.4 11 L11.6 5" fill="none" stroke="#fff" stroke-width="2.1" stroke-linecap="round" stroke-linejoin="round"/></svg>
<div class="cell" style="left:153px;top:623.5px">Withdraw Application</div>
<div class="cell" style="left:451px;top:623.5px">Withdraw Application</div>
<svg class="a" style="left:1087px;top:628px" width="16" height="16" viewBox="0 0 16 16"><circle cx="8" cy="8" r="7.5" fill="#5dbf57"/><circle cx="8" cy="4.6" r="1.25" fill="#fff"/><path d="M6.3 7 H8.6 V11.2 M6.4 11.4 H9.8" fill="none" stroke="#fff" stroke-width="1.6"/></svg>
<div class="cell" style="left:1165px;top:623.5px">2027-01-01</div>
<div class="chk" style="left:105px;top:681.5px"></div>
<div class="cell" style="left:153px;top:676.0px">Withdraw Application</div>
<div class="cell" style="left:451px;top:676.0px">Withdraw Application</div>
<div class="cell" style="left:749px;top:676.0px">Test Description</div>
<svg class="a" style="left:1087px;top:680.5px" width="16" height="16" viewBox="0 0 16 16"><circle cx="8" cy="8" r="7.5" fill="#5dbf57"/><circle cx="8" cy="4.6" r="1.25" fill="#fff"/><path d="M6.3 7 H8.6 V11.2 M6.4 11.4 H9.8" fill="none" stroke="#fff" stroke-width="1.6"/></svg>
<div class="cell" style="left:1165px;top:676.0px">2027-01-01</div>
<div class="chk" style="left:105px;top:745.0px"></div>
<div class="cell" style="left:153px;top:728.0px">Withdraw Application</div>
<div class="cell" style="left:451px;top:728.0px">Withdraw Application</div>
<svg class="a" style="left:1085px;top:732.5px" width="19" height="16" viewBox="0 0 19 16"><path d="M2.5 8.5 L7 12.5 L16.5 3.5" fill="none" stroke="#5dbf57" stroke-width="2.8" stroke-linecap="round" stroke-linejoin="round"/></svg>
<div class="cell" style="left:1165px;top:728.0px">2027-01-01</div>
<div class="a" style="left:1461px;top:717.5px;width:139px;height:73.4px;background:#f8f9fb"></div>
<div class="a" style="left:1461px;top:790.9px;width:139px;height:1.4px;background:#f0f1f5"></div>
<div class="a" style="left:1464px;top:730.5px;width:20px;height:23px;border-radius:50%;background:#999395;filter:blur(3.2px)"></div>
<div class="a" style="left:1488px;top:728.0px;font-size:16.5px;line-height:24px;color:#a3adc3;font-weight:bold;letter-spacing:-0.4px;filter:blur(3.4px)">Anjali <span style="margin-left:1px">Sharma</span></div>
<div class="a" style="left:1464px;top:754.0px;font-size:18px;line-height:24px;color:#a8b1c5;font-weight:bold;letter-spacing:-0.5px;filter:blur(3.4px)">23:10</div>
<div class="cell" style="left:1601px;top:728.0px">at 2025-09-24</div>
<div class="chk" style="left:105px;top:820.5px"></div>
<div class="cell" style="left:153px;top:803.0px">Withdraw Application</div>
<div class="cell" style="left:451px;top:803.0px">Withdraw Application</div>
<svg class="a" style="left:1085px;top:807.5px" width="19" height="16" viewBox="0 0 19 16"><path d="M2.5 8.5 L7 12.5 L16.5 3.5" fill="none" stroke="#5dbf57" stroke-width="2.8" stroke-linecap="round" stroke-linejoin="round"/></svg>
<div class="cell" style="left:1165px;top:803.0px">2027-01-01</div>
<div class="a" style="left:1461px;top:792.5px;width:139px;height:74.4px;background:#f8f9fb"></div>
<div class="a" style="left:1461px;top:866.9px;width:139px;height:1.4px;background:#f0f1f5"></div>
<div class="a" style="left:1464px;top:805.5px;width:20px;height:23px;border-radius:50%;background:#999395;filter:blur(3.2px)"></div>
<div class="a" style="left:1488px;top:803.0px;font-size:16.5px;line-height:24px;color:#a3adc3;font-weight:bold;letter-spacing:-0.4px;filter:blur(3.4px)">Anjali <span style="margin-left:1px">Sharma</span></div>
<div class="a" style="left:1464px;top:829.0px;font-size:18px;line-height:24px;color:#a8b1c5;font-weight:bold;letter-spacing:-0.5px;filter:blur(3.4px)">23:10</div>
<div class="cell" style="left:1601px;top:803.0px">at 2025-09-24</div>
<div class="chk" style="left:105px;top:896.0px"></div>
<div class="cell" style="left:153px;top:879.0px">Withdraw Application</div>
<div class="cell" style="left:451px;top:879.0px">Withdraw Application</div>
<svg class="a" style="left:1085px;top:883.5px" width="19" height="16" viewBox="0 0 19 16"><path d="M2.5 8.5 L7 12.5 L16.5 3.5" fill="none" stroke="#5dbf57" stroke-width="2.8" stroke-linecap="round" stroke-linejoin="round"/></svg>
<div class="cell" style="left:1165px;top:879.0px">2027-01-01</div>
<div class="a" style="left:1461px;top:868.5px;width:139px;height:73.4px;background:#f8f9fb"></div>
<div class="a" style="left:1464px;top:881.5px;width:20px;height:23px;border-radius:50%;background:#999395;filter:blur(3.2px)"></div>
<div class="a" style="left:1488px;top:879.0px;font-size:16.5px;line-height:24px;color:#a3adc3;font-weight:bold;letter-spacing:-0.4px;filter:blur(3.4px)">Anjali <span style="margin-left:1px">Sharma</span></div>
<div class="a" style="left:1464px;top:905.0px;font-size:18px;line-height:24px;color:#a8b1c5;font-weight:bold;letter-spacing:-0.5px;filter:blur(3.4px)">23:10</div>
<div class="cell" style="left:1601px;top:879.0px">at 2025-09-24</div>
<div class="chk on" style="left:105px;top:959.5px"></div>
<svg class="a" style="left:105px;top:959.5px" width="15" height="16" viewBox="0 0 15 16"><path d="M3.6 8.2 L6.4 11 L11.6 5" fill="none" stroke="#fff" stroke-width="2.1" stroke-linecap="round" stroke-linejoin="round"/></svg>
<div class="cell" style="left:153px;top:954.0px">Withdraw Application</div>
<div class="cell" style="left:451px;top:954.0px">Withdraw Application</div>
<svg class="a" style="left:1087px;top:958.5px" width="16" height="16" viewBox="0 0 16 16"><circle cx="8" cy="8" r="7.5" fill="#5dbf57"/><circle cx="8" cy="4.6" r="1.25" fill="#fff"/><path d="M6.3 7 H8.6 V11.2 M6.4 11.4 H9.8" fill="none" stroke="#fff" stroke-width="1.6"/></svg>
<div class="cell" style="left:1165px;top:954.0px">2027-01-01</div>
<div class="chk on" style="left:105px;top:1011.5px"></div>
<svg class="a" style="left:105px;top:1011.5px" width="15" height="16" viewBox="0 0 15 16"><path d="M3.6 8.2 L6.4 11 L11.6 5" fill="none" stroke="#fff" stroke-width="2.1" stroke-linecap="round" stroke-linejoin="round"/></svg>
<div class="cell" style="left:153px;top:1006.0px">Withdraw Application</div>
<div class="cell" style="left:451px;top:1006.0px">Withdraw Application</div>
<svg class="a" style="left:1087px;top:1010.5px" width="16" height="16" viewBox="0 0 16 16"><circle cx="8" cy="8" r="7.5" fill="#5dbf57"/><circle cx="8" cy="4.6" r="1.25" fill="#fff"/><path d="M6.3 7 H8.6 V11.2 M6.4 11.4 H9.8" fill="none" stroke="#fff" stroke-width="1.6"/></svg>
<div class="cell" style="left:1165px;top:1006.0px">2027-01-01</div>
<div class="chk" style="left:105px;top:1064.5px"></div>
<div class="cell" style="left:153px;top:1059.0px">Withdraw Application</div>
<div class="cell" style="left:451px;top:1059.0px">Withdraw Application</div>
<svg class="a" style="left:1087px;top:1063.5px" width="16" height="16" viewBox="0 0 16 16"><circle cx="8" cy="8" r="7.5" fill="#5dbf57"/><circle cx="8" cy="4.6" r="1.25" fill="#fff"/><path d="M6.3 7 H8.6 V11.2 M6.4 11.4 H9.8" fill="none" stroke="#fff" stroke-width="1.6"/></svg>
<div class="cell" style="left:1165px;top:1059.0px">2027-01-01</div>
<div class="chk" style="left:105px;top:1116.5px"></div>
<div class="cell" style="left:153px;top:1111.0px">Withdraw Application</div>
<div class="cell" style="left:451px;top:1111.0px">Withdraw Application</div>
<svg class="a" style="left:1087px;top:1115.5px" width="16" height="16" viewBox="0 0 16 16"><circle cx="8" cy="8" r="7.5" fill="#5dbf57"/><circle cx="8" cy="4.6" r="1.25" fill="#fff"/><path d="M6.3 7 H8.6 V11.2 M6.4 11.4 H9.8" fill="none" stroke="#fff" stroke-width="1.6"/></svg>
<div class="cell" style="left:1165px;top:1111.0px">2027-01-01</div>
<svg class="a" style="left:1814.6px;top:119.3px" width="17" height="17" viewBox="0 0 17 17"><path d="M3 3.5 L7.5 8.5 L3 13.5 M9 3.5 L13.5 8.5 L9 13.5" fill="none" stroke="#4a5a77" stroke-width="1.95" stroke-linecap="round" stroke-linejoin="round"/></svg>
<div class="sbh" style="top:168px;white-space:normal;width:280px">REFERENCE CATALOG &amp;<br>INTEGRATIONS</div>
<div class="sbh" style="top:239.5px">TO-DO</div>
<div class="sbt" style="top:263.5px;font-size:17.9px">There are no to-dos for this fact<br>sheet.</div>
<div class="sbh" style="top:340.5px;font-size:14.9px">RECENTLY VIEWED</div>
<div class="a" style="left:1812.8px;top:372px;width:25.3px;height:25.8px;border-radius:3px;background:#64c45e;color:#fff;font-weight:bold;font-size:15px;line-height:26px;text-align:center">P</div>
<div class="sbt" style="left:1848.5px;top:372px;font-size:18px;letter-spacing:-0.4px">000 - KAS - REINVT</div>
<div class="a" style="left:1812.8px;top:410px;width:25.3px;height:25.8px;border-radius:3px;background:#3a78b6;color:#fff;font-weight:bold;font-size:15px;line-height:26px;text-align:center">A</div>
<div class="sbt" style="left:1848.5px;top:410px;font-size:17.9px;padding-left:1.5px">A brand new custom app - ...</div>
<div class="a" style="left:1812.8px;top:447px;width:25.3px;height:25.8px;border-radius:3px;background:#64c45e;color:#fff;font-weight:bold;font-size:15px;line-height:26px;text-align:center">P</div>
<div class="sbt" style="left:1848.5px;top:447px;font-size:17.7px">A new project 1</div>
<div class="a" style="left:1812.8px;top:485px;width:25.3px;height:25.8px;border-radius:3px;background:#3a78b6;color:#fff;font-weight:bold;font-size:15px;line-height:26px;text-align:center">A</div>
<div class="sbt" style="left:1848.5px;top:485px;font-size:17.6px">AC Management</div>
<div class="a" style="left:1812.8px;top:523px;width:25.3px;height:25.8px;border-radius:3px;background:#3a78b6;color:#fff;font-weight:bold;font-size:15px;line-height:26px;text-align:center">A</div>
<div class="sbt" style="left:1848.5px;top:523px;font-size:17.6px">Docs Scheduled Change</div>
<div class="sbh" style="top:584.5px;font-size:15px">SHOW IN REPORT</div>
<div class="sbt" style="top:615px;font-size:17.85px">Application Roadmap</div>
<div class="sbt" style="top:653.5px;font-size:17.9px">Application landscape</div>
</body></html>
